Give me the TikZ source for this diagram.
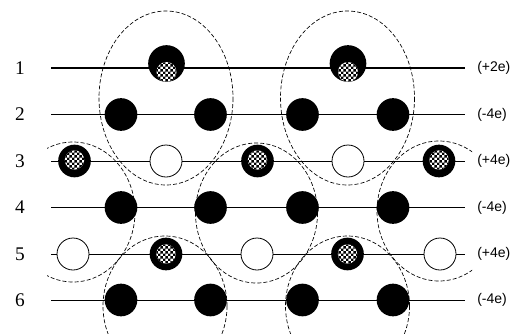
\documentclass[tikz,border=0pt]{standalone}
\usepackage{fontspec}
\setmainfont{Liberation Serif}
\newfontfamily\chargefont{Liberation Sans}
\usetikzlibrary{patterns}
\pgfdeclarepatternformonly{finecheck}{\pgfpointorigin}{\pgfqpoint{3.6pt}{3.6pt}}{\pgfqpoint{3.6pt}{3.6pt}}{%
  \pgfpathrectangle{\pgfpointorigin}{\pgfqpoint{1.85pt}{1.85pt}}%
  \pgfpathrectangle{\pgfqpoint{1.8pt}{1.8pt}}{\pgfqpoint{1.85pt}{1.85pt}}%
  \pgfusepath{fill}}
\begin{document}
\begin{tikzpicture}[x=0.75pt,y=-0.75pt,
  solidatom/.style={circle, fill=black, inner sep=0pt, minimum size=24.5pt},
  bigatom/.style={circle, fill=black, inner sep=0pt, minimum size=27.5pt},
  hollowatom/.style={circle, draw=black, line width=0.6pt, fill=white, inner sep=0pt, minimum size=24pt},
  checkcore/.style={circle, inner sep=0pt, minimum size=14.5pt, preaction={fill=white}, pattern=finecheck, pattern color=black},
  rowline/.style={line width=0.6pt},
  toprowline/.style={line width=1.3pt},
  ringline/.style={dashed, dash pattern=on 3pt off 1.6pt, line width=0.5pt},
  rowlabel/.style={font=\fontsize{14.5}{14.5}\selectfont},
  chargelabel/.style={font=\chargefont\fontsize{10.5}{11}\selectfont, anchor=west, inner sep=0pt}
]
\useasboundingbox (0,0) rectangle (518,333);
\fill[white] (0,0) rectangle (518,333);

% row lines and labels
\foreach \r/\y/\q in {1/68/(+2e), 2/114.5/(-4e), 3/161/(+4e), 4/207.5/(-4e), 5/254/(+4e), 6/300/(-4e)}{
  \coordinate (s\r) at (51,\y);
  \coordinate (e\r) at (465,\y);
  \node[rowlabel] (n\r) at (20,\y) {\r};
  \node[chargelabel] (q\r) at (477,\y) {\q};
}
\draw[toprowline] (s1) -- (e1);
\foreach \r in {2,...,6}{ \draw[rowline] (s\r) -- (e\r); }

% row 1
\node[bigatom] (a11) at (166.5,63.5) {};
\node[checkcore, minimum size=15pt] (c11) at (166.5,72) {};
\node[bigatom] (a12) at (348,63.5) {};
\node[checkcore, minimum size=15pt] (c12) at (348,72) {};

% rows 2, 4, 6
\foreach \r/\y in {2/114.5, 4/207.5, 6/300}{
  \foreach \i/\x in {1/121, 2/210.5, 3/302.5, 4/393}{
    \node[solidatom] (b\r\i) at (\x,\y) {};
  }
}

% row 3
\node[solidatom] (a31) at (74.5,161) {};
\node[checkcore] (c31) at (74.5,160) {};
\node[hollowatom] (w31) at (166,161) {};
\node[solidatom] (a32) at (257.5,161) {};
\node[checkcore] (c32) at (257.5,160) {};
\node[hollowatom] (w32) at (348,161) {};
\node[solidatom] (a33) at (439,161) {};
\node[checkcore] (c33) at (439,160) {};

% row 5
\node[hollowatom] (w51) at (73,254) {};
\node[solidatom] (a51) at (166,254) {};
\node[checkcore] (c51) at (166,254) {};
\node[hollowatom] (w52) at (257,254) {};
\node[solidatom] (a52) at (347.5,254) {};
\node[checkcore] (c52) at (347.5,254) {};
\node[hollowatom] (w53) at (440,254) {};

% dashed cluster outlines
\draw[ringline] (166,98) ellipse [x radius=67, y radius=87];
\draw[ringline] (347.5,98) ellipse [x radius=67, y radius=87];
\begin{scope}
  \clip (47,0) rectangle (472,333);
  \draw[ringline] (73,212) ellipse [x radius=62, y radius=70];
  \draw[ringline] (256.5,213) ellipse [x radius=61, y radius=70];
  \draw[ringline] (439,211) ellipse [x radius=62, y radius=70];
  \draw[ringline] (165,306) ellipse [x radius=62, y radius=70];
  \draw[ringline] (347.5,306) ellipse [x radius=62, y radius=70];
\end{scope}
\end{tikzpicture}
\end{document}
